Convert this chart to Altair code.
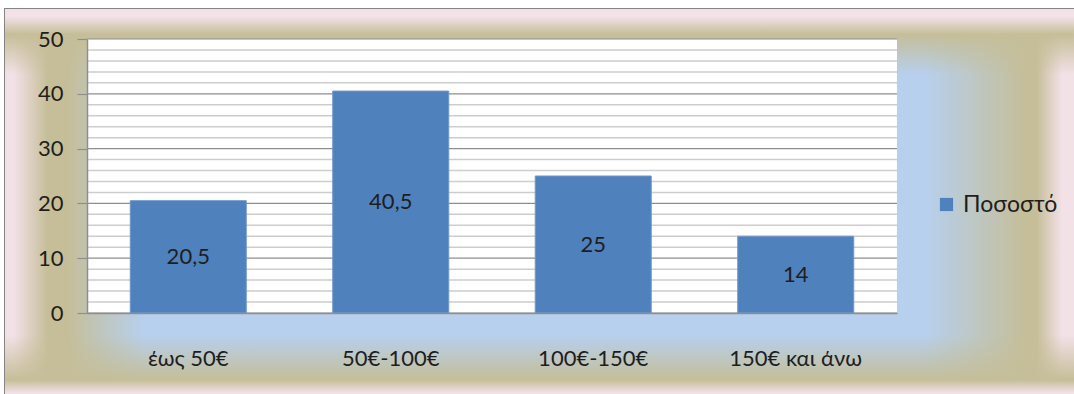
import altair as alt
import pandas as pd

# Spending bands and the share of answers in each (percent)
categories = ["έως 50€", "50€-100€", "100€-150€", "150€ και άνω"]
values = [20.5, 40.5, 25, 14]
series_name = "Ποσοστό"

# Y-axis gridlines: major every 10, minor every 2
major_ticks = [0, 10, 20, 30, 40, 50]
minor_ticks = [2, 4, 6, 8, 12, 14, 16, 18, 22, 24, 26, 28,
               32, 34, 36, 38, 42, 44, 46, 48]

FONT = "Lato"
TEXT = "#1E1E1E"
AXIS_GRAY = "#8E8E8E"
BAR = "#4F81BD"
PINK = "#F3E1E8"
KHAKI = "rgba(197,190,152,1)"
KHAKI_0 = "rgba(197,190,152,0)"
BLUE = "#B7D0EE"

W, H = 810, 274

df = pd.DataFrame({
    "category": categories,
    "value": values,
    "series": series_name,
    "label": [f"{v:g}".replace(".", ",") for v in values],
})

one_row = alt.Data(values=[{"k": 0}])

# Frame of the chart area (outside the plotting region)
frame = dict(x=alt.value(-82), x2=alt.value(990), y=alt.value(-30), y2=alt.value(358))

base_fill = alt.Chart(one_row).mark_rect(
    fill=BLUE, stroke="#858585", strokeWidth=2
).encode(**frame)

h_grad = alt.Chart(one_row).mark_rect(
    fill=alt.LinearGradient(
        gradient="linear", x1=0, y1=0, x2=1, y2=0,
        stops=[
            alt.GradientStop(color=PINK, offset=0),
            alt.GradientStop(color=PINK, offset=0.008),
            alt.GradientStop(color=KHAKI, offset=0.04),
            alt.GradientStop(color=KHAKI, offset=0.058),
            alt.GradientStop(color=KHAKI_0, offset=0.13),
            alt.GradientStop(color=KHAKI_0, offset=0.858),
            alt.GradientStop(color=KHAKI, offset=0.952),
            alt.GradientStop(color=KHAKI, offset=0.962),
            alt.GradientStop(color=PINK, offset=0.986),
            alt.GradientStop(color=PINK, offset=1),
        ],
    )
).encode(**frame)

v_grad = alt.Chart(one_row).mark_rect(
    fill=alt.LinearGradient(
        gradient="linear", x1=0, y1=0, x2=0, y2=1,
        stops=[
            alt.GradientStop(color=PINK, offset=0),
            alt.GradientStop(color=PINK, offset=0.02),
            alt.GradientStop(color=KHAKI, offset=0.065),
            alt.GradientStop(color=KHAKI_0, offset=0.17),
            alt.GradientStop(color=KHAKI_0, offset=0.84),
            alt.GradientStop(color=KHAKI, offset=0.956),
            alt.GradientStop(color=PINK, offset=0.99),
            alt.GradientStop(color=PINK, offset=1),
        ],
    )
).encode(**frame)

plot_bg = alt.Chart(one_row).mark_rect(fill="white").encode(
    x=alt.value(0), x2=alt.value(W), y=alt.value(0), y2=alt.value(H)
)

yscale = alt.Scale(domain=[0, 50], nice=False)
yaxis = alt.Axis(
    title=None, values=major_ticks, grid=False,
    domainColor=AXIS_GRAY, domainWidth=1.5,
    tickColor=AXIS_GRAY, tickSize=10, tickWidth=1.2,
    labelFont=FONT, labelFontSize=22, labelColor=TEXT,
    labelPadding=14, zindex=1,
)

minor_grid = alt.Chart(pd.DataFrame({"v": minor_ticks})).mark_rule(
    color="#CDCDCD", strokeWidth=1.5
).encode(y=alt.Y("v:Q", scale=yscale, axis=yaxis))

major_grid = alt.Chart(pd.DataFrame({"v": major_ticks})).mark_rule(
    color=AXIS_GRAY, strokeWidth=1.2
).encode(y=alt.Y("v:Q", scale=yscale, axis=yaxis))

xenc = alt.X(
    "category:N", sort=categories,
    scale=alt.Scale(paddingInner=0.427, paddingOuter=0.2136),
    axis=alt.Axis(
        title=None, labelAngle=0, ticks=False, tickSize=0,
        domainColor=AXIS_GRAY, domainWidth=1.5,
        labelFont=FONT, labelFontSize=22, labelColor=TEXT,
        labelBaseline="middle", labelPadding=45, zindex=1,
    ),
)

bars = alt.Chart(df).mark_bar(stroke="#7097CC", strokeWidth=1).encode(
    x=xenc,
    y=alt.Y("value:Q", scale=yscale, axis=yaxis),
    color=alt.Color(
        "series:N", scale=alt.Scale(range=[BAR]),
        legend=alt.Legend(
            title=None, orient="none", legendX=848, legendY=154,
            symbolType="square", symbolSize=175, symbolStrokeWidth=0,
            symbolOpacity=1,
            labelFont=FONT, labelFontSize=23, labelColor=TEXT,
            labelOffset=5,
        ),
    ),
)

labels = alt.Chart(df).transform_calculate(
    mid="datum.value / 2"
).mark_text(font=FONT, fontSize=22, color=TEXT, baseline="middle").encode(
    x=xenc,
    y=alt.Y("mid:Q", scale=yscale, axis=yaxis),
    text="label:N",
)

chart = alt.layer(
    base_fill, h_grad, v_grad, plot_bg, minor_grid, major_grid, bars, labels
).properties(
    width=W, height=H,
    autosize=alt.AutoSizeParams(type="none"),
    padding={"left": 87, "top": 39, "right": 177, "bottom": 81},
    background="white",
).configure_view(stroke=None)

chart.save("out.html", embed_options={"renderer": "svg", "actions": False})
